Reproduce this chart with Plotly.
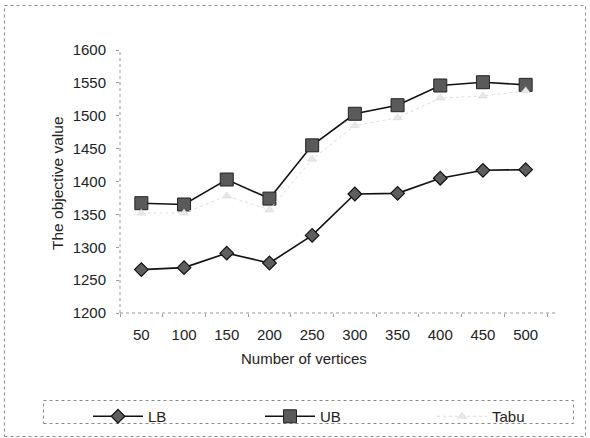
import plotly.graph_objects as go

categories = ["50", "100", "150", "200", "250", "300", "350", "400", "450", "500"]
lb_values = [1266, 1269, 1291, 1276, 1318, 1381, 1382, 1405, 1417, 1418]
ub_values = [1367, 1365, 1403, 1374, 1455, 1503, 1516, 1546, 1551, 1547]
tabu_values = [1352, 1352, 1378, 1357, 1434, 1485, 1497, 1527, 1530, 1538]
y_ticks = [1200, 1250, 1300, 1350, 1400, 1450, 1500, 1550, 1600]

W, H = 590, 438
L, R, T, B = 120, 43, 50, 125
pw, ph = W - L - R, H - T - B

def px_to_paper_x(px):
    return (px - L) / pw

def px_to_paper_y(py):
    return (H - B - py) / ph

FAM = "Liberation Sans, Arial, sans-serif"
TXT = "#222222"

fig = go.Figure()
fig.add_trace(go.Scatter(
    x=categories, y=lb_values, name="LB", mode="lines+markers",
    line=dict(color="#111111", width=1.6),
    marker=dict(symbol="diamond", size=10.5, color="#5e5e5e",
                line=dict(color="#111111", width=1.2)),
))
fig.add_trace(go.Scatter(
    x=categories, y=ub_values, name="UB", mode="lines+markers",
    line=dict(color="#111111", width=1.6),
    marker=dict(symbol="square", size=13, color="#5a5a5a",
                line=dict(color="#222222", width=1)),
))
fig.add_trace(go.Scatter(
    x=categories, y=tabu_values, name="Tabu", mode="lines+markers",
    line=dict(color="#dddddd", width=1, dash="dot"),
    marker=dict(symbol="triangle-up", size=8, color="#e8e8e8",
                line=dict(color="#d0d0d0", width=0.5)),
))

fig.update_layout(
    width=W, height=H,
    margin=dict(l=L, r=R, t=T, b=B, autoexpand=False),
    paper_bgcolor="white", plot_bgcolor="white",
    font=dict(family=FAM, size=15, color=TXT),
    showlegend=True,
    legend=dict(
        orientation="h", x=px_to_paper_x(88), y=px_to_paper_y(400),
        xanchor="left", yanchor="top",
        entrywidth=107, entrywidthmode="pixels",
        itemwidth=50,
        font=dict(family=FAM, size=15, color=TXT),
        bgcolor="rgba(0,0,0,0)", borderwidth=0,
    ),
    xaxis=dict(
        type="category", range=[-0.5, 9.5],
        showgrid=False, zeroline=False, showline=False,
        ticks="outside", ticklen=3, tickcolor="#999999",
        tickson="boundaries",
        ticklabelstandoff=11,
        tickfont=dict(size=15),
    ),
    yaxis=dict(
        range=[1200, 1600], tickvals=y_ticks,
        showgrid=False, zeroline=False, showline=False,
        ticks="outside", ticklen=3, tickcolor="#999999",
        ticklabelstandoff=7,
        tickfont=dict(size=15),
    ),
    annotations=[
        dict(text="Number of vertices", xref="paper", yref="paper",
             x=px_to_paper_x(304), y=px_to_paper_y(358),
             xanchor="center", yanchor="middle", showarrow=False,
             font=dict(family=FAM, size=15, color=TXT)),
        dict(text="The objective value", xref="paper", yref="paper",
             x=px_to_paper_x(57), y=px_to_paper_y(183), textangle=-90,
             xanchor="center", yanchor="middle", showarrow=False,
             font=dict(family=FAM, size=15.5, color=TXT)),
    ],
)

# dotted axis lines
fig.add_shape(type="line", xref="paper", yref="paper", x0=0, x1=0, y0=0, y1=1,
              line=dict(color="#999999", width=1, dash="dot"))
fig.add_shape(type="line", xref="paper", yref="paper", x0=0, x1=1.02, y0=0, y1=0,
              line=dict(color="#999999", width=1, dash="dot"))
# outer chart border
fig.add_shape(type="rect", xref="paper", yref="paper",
              x0=px_to_paper_x(4.5), x1=px_to_paper_x(585.5),
              y0=px_to_paper_y(436.5), y1=px_to_paper_y(5.5),
              line=dict(color="#888888", width=1, dash="dot"), layer="below")
# legend box
fig.add_shape(type="rect", xref="paper", yref="paper",
              x0=px_to_paper_x(43.5), x1=px_to_paper_x(573.5),
              y0=px_to_paper_y(423.5), y1=px_to_paper_y(400.5),
              line=dict(color="#888888", width=1, dash="dot"), layer="below")

fig.write_html("out.html")
